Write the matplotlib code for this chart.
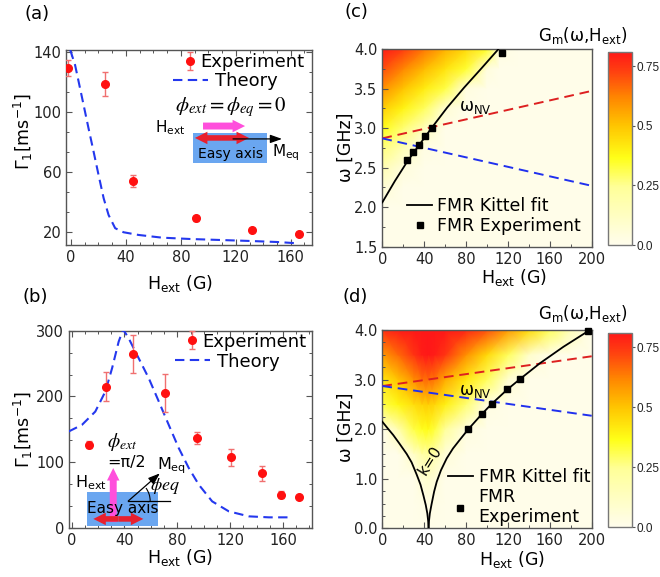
import numpy as np
import matplotlib
matplotlib.use('Agg')
import matplotlib.pyplot as plt
from matplotlib.colors import LinearSegmentedColormap
from matplotlib.ticker import AutoMinorLocator, MultipleLocator, FormatStrFormatter
from matplotlib.patches import Rectangle, Arc

plt.rcParams['font.family'] = ['DejaVu Sans']
plt.rcParams['mathtext.default'] = 'regular'

# ---------------- data ----------------
# (a) phi_ext = phi_eq = 0
a_exp_H = [-2, 25, 45, 91, 132, 166]
a_exp_G = [129.3, 118.7, 54.3, 29.3, 21.8, 18.7]
a_exp_err = [5.3, 8.1, 4.1, 1.5, 1.2, 1.2]
a_th_H = [-0.5, 3, 5.6, 9.2, 12.8, 16.5, 20.1, 23.8, 27.4, 32.2, 38.3, 49.2, 66.2, 86.8, 110, 130, 150, 164]
a_th_G = [141.5, 131.5, 120.4, 104.9, 89.3, 73.7, 58.2, 42.7, 31.5, 22.7, 20.0, 18.2, 16.4, 15.5, 14.8, 14.2, 13.5, 12.7]

# (b) phi_ext = pi/2
b_exp_H = [13.4, 26.2, 46.5, 71, 95, 121, 144.3, 158.2, 172.1]
b_exp_G = [126.5, 215, 264.2, 205, 136.4, 107.2, 83.4, 50.5, 47]
b_exp_err = [5.6, 22.3, 29, 28.6, 9, 13, 11.6, 5, 2]
b_th_H = [-2.3, 7.8, 17.9, 25.5, 30.6, 35.6, 39, 43.2, 50.8, 58.4, 66, 73.5, 81.1, 88.7, 96.3, 106.4, 119, 134.2, 149.4, 167]
b_th_G = [146.7, 156.8, 177, 207.4, 242.8, 283.3, 302, 288.4, 258, 227.7, 192.3, 156.9, 121.5, 91.2, 65.8, 40.5, 25.3, 17.7, 16.2, 16.2]

# (c) Kittel fit, FMR experiment, NV lines, G_m map
c_kit_H = [0, 12, 24, 36, 47, 62, 78, 95, 111, 114]
c_kit_W = [2.06, 2.33, 2.58, 2.80, 3.00, 3.26, 3.51, 3.76, 4.00, 4.04]
c_fmr_H = [23.5, 29.6, 35.4, 40.5, 47.2, 114]
c_fmr_W = [2.60, 2.70, 2.79, 2.90, 3.00, 3.95]
nv_H = [0, 200]
nv_up = [2.87, 3.47]
nv_dn = [2.87, 2.27]
c_map_H = [0, 20, 40, 60, 80, 100, 112, 130, 200]
c_map_W = [1.5, 2.0, 2.25, 2.5, 2.75, 3.0, 3.25, 3.5, 3.75, 4.0]
c_map_G = [
    [0.01, 0.01, 0.01, 0.01, 0.01, 0.01, 0.01, 0.01, 0.01],
    [0.01, 0.01, 0.01, 0.01, 0.01, 0.01, 0.01, 0.01, 0.01],
    [0.07, 0.01, 0.01, 0.01, 0.01, 0.01, 0.01, 0.01, 0.01],
    [0.17, 0.05, 0.01, 0.01, 0.01, 0.01, 0.01, 0.01, 0.01],
    [0.27, 0.16, 0.03, 0.01, 0.01, 0.01, 0.01, 0.01, 0.01],
    [0.37, 0.28, 0.14, 0.01, 0.01, 0.01, 0.01, 0.01, 0.01],
    [0.48, 0.39, 0.30, 0.07, 0.01, 0.01, 0.01, 0.01, 0.01],
    [0.60, 0.50, 0.41, 0.32, 0.04, 0.01, 0.01, 0.01, 0.01],
    [0.71, 0.62, 0.52, 0.43, 0.34, 0.05, 0.01, 0.01, 0.01],
    [0.81, 0.74, 0.64, 0.54, 0.45, 0.35, 0.03, 0.01, 0.01],
]

# (d)
d_kitL_H = [0, 5, 10.5, 16, 23.3, 28, 32.9, 36.5, 39.3, 41.5, 43, 43.8, 44.2]
d_kitL_W = [2.15, 2.02, 1.88, 1.72, 1.50, 1.33, 1.08, 0.88, 0.66, 0.47, 0.30, 0.15, 0.0]
d_kitR_H = [44.2, 44.6, 45.4, 47, 49.5, 52, 56, 61.5, 67.5, 74.2, 82.2, 94.9, 104.5, 119.4, 131.5, 150.6, 172.9, 196, 198]
d_kitR_W = [0.0, 0.15, 0.30, 0.48, 0.74, 0.94, 1.17, 1.41, 1.61, 1.79, 2.00, 2.30, 2.51, 2.80, 3.01, 3.33, 3.66, 3.97, 4.0]
d_fmr_H = [82.2, 94.9, 104.5, 119.4, 131.5, 196]
d_fmr_W = [2.00, 2.30, 2.51, 2.80, 3.01, 3.97]
d_map_H = [0, 15, 30, 38, 44, 50, 60, 80, 100, 120, 140, 160, 180, 200]
d_map_W = [0, 0.5, 1.0, 1.5, 2.0, 2.5, 3.0, 3.5, 4.0]
d_map_G = [
    [0.01, 0.01, 0.01, 0.01, 0.01, 0.01, 0.01, 0.01, 0.01, 0.01, 0.01, 0.01, 0.01, 0.01],
    [0.01, 0.01, 0.01, 0.02, 0.03, 0.02, 0.01, 0.01, 0.01, 0.01, 0.01, 0.01, 0.01, 0.01],
    [0.01, 0.01, 0.01, 0.07, 0.09, 0.06, 0.01, 0.01, 0.01, 0.01, 0.01, 0.01, 0.01, 0.01],
    [0.01, 0.01, 0.11, 0.20, 0.22, 0.18, 0.06, 0.01, 0.01, 0.01, 0.01, 0.01, 0.01, 0.01],
    [0.01, 0.17, 0.32, 0.36, 0.37, 0.33, 0.24, 0.04, 0.01, 0.01, 0.01, 0.01, 0.01, 0.01],
    [0.32, 0.38, 0.44, 0.47, 0.48, 0.46, 0.40, 0.28, 0.03, 0.01, 0.01, 0.01, 0.01, 0.01],
    [0.42, 0.50, 0.60, 0.65, 0.66, 0.64, 0.55, 0.42, 0.30, 0.08, 0.01, 0.01, 0.01, 0.01],
    [0.58, 0.66, 0.75, 0.80, 0.81, 0.80, 0.75, 0.60, 0.45, 0.30, 0.10, 0.01, 0.01, 0.01],
    [0.76, 0.80, 0.81, 0.81, 0.81, 0.81, 0.81, 0.78, 0.70, 0.58, 0.45, 0.30, 0.15, 0.01],
]
cbar_ticks = [0, 0.25, 0.5, 0.75]
cbar_labels = ['0.0', '0.25', '0.5', '0.75']

# ---------------- style ----------------
W, H = 660, 577
fig = plt.figure(figsize=(6.6, 5.77), dpi=100)

def px_axes(l, r, t, b):
    return fig.add_axes([l / W, 1 - b / H, (r - l) / W, (b - t) / H])

SPINE = '#555555'
cmap = LinearSegmentedColormap.from_list('gm', [
    (0.0, '#fffdec'), (0.30, '#ffff98'), (0.45, '#ffff18'), (0.62, '#ffc400'),
    (0.76, '#ff8800'), (0.90, '#ff4010'), (1.0, '#ff1818')])

def style_axes(ax, four=True):
    for s in ax.spines.values():
        s.set_color(SPINE)
        s.set_linewidth(1.0)
    ax.tick_params(which='both', direction='in', top=four, right=four, colors=SPINE,
                   labelcolor='#222222', labelsize=10.5)
    ax.tick_params(which='major', length=4, width=0.8)
    ax.tick_params(which='minor', length=2.5, width=0.7)

EXP_RED = '#ff1010'
ERR_RED = '#f07070'
TH_BLUE = '#2438ee'

def gamma_panel(ax, eH, eG, eErr, tH, tG, leg_exp, leg_th):
    eb = ax.errorbar(eH, eG, yerr=eErr, fmt='o', color=EXP_RED, ms=5.5, ecolor=ERR_RED,
                     elinewidth=1.0, capsize=2.5, capthick=1.0, zorder=5)
    th, = ax.plot(tH, tG, color=TH_BLUE, lw=1.5, dashes=(4.5, 2.6), zorder=4)
    l1 = ax.legend([eb], ['Experiment'], loc='center left', bbox_to_anchor=leg_exp,
                   frameon=False, fontsize=13, handlelength=0.8, handletextpad=0.15,
                   borderpad=0, borderaxespad=0)
    ax.add_artist(l1)
    ax.legend([th], ['Theory'], loc='center left', bbox_to_anchor=leg_th,
              frameon=False, fontsize=13, handlelength=1.95, handletextpad=0.4,
              borderpad=0, borderaxespad=0)
    ax.xaxis.set_major_locator(MultipleLocator(40))
    ax.xaxis.set_minor_locator(AutoMinorLocator(4))
    ax.yaxis.set_minor_locator(AutoMinorLocator(3))
    ax.set_xlabel('H$_{ext}$ (G)', fontsize=12.5, va='center')
    ax.set_ylabel(r'$\Gamma_1$[ms$^{-1}$]', fontsize=12.5, va='center')
    style_axes(ax, True)

# ---------------- (a) ----------------
axa = px_axes(66, 312, 50, 245)
gamma_panel(axa, a_exp_H, a_exp_G, a_exp_err, a_th_H, a_th_G, (0.475, 0.938), (0.435, 0.841))
axa.set_xlim(-3.6, 175.5)
axa.set_ylim(11.5, 141.5)
axa.set_yticks([20, 60, 100, 140])
axa.xaxis.set_label_coords(0.463, -0.2)
axa.yaxis.set_label_coords(-0.173, 0.58)

# inset (a)
T = axa.transAxes
BLUE_BOX = '#6aa6f0'
PINK = '#ff4fdc'
RED_AR = '#e8202e'
SIMPLE = 'simple,head_width=0.9,head_length=0.9,tail_width=0.5'
SIMPLE2 = 'simple,head_width=0.9,head_length=0.9,tail_width=0.4'
axa.add_patch(Rectangle((0.516, 0.421), 0.301, 0.153, transform=T, color=BLUE_BOX, zorder=6, lw=0))
axa.annotate('', xy=(0.728, 0.61), xytext=(0.557, 0.61), xycoords=T, textcoords=T,
             arrowprops=dict(arrowstyle=SIMPLE, color=PINK, lw=0, mutation_scale=10,
                             shrinkA=0, shrinkB=0), zorder=7)
for xe in (0.524, 0.744):
    axa.annotate('', xy=(xe, 0.549), xytext=(0.634, 0.549), xycoords=T, textcoords=T,
                 arrowprops=dict(arrowstyle=SIMPLE2, color=RED_AR, lw=0, mutation_scale=10,
                                 shrinkA=0, shrinkB=0), zorder=7)
axa.annotate('', xy=(0.878, 0.544), xytext=(0.679, 0.544), xycoords=T, textcoords=T,
             arrowprops=dict(arrowstyle='-|>,head_width=0.25,head_length=0.7', color='black', lw=0.9,
                             shrinkA=0, shrinkB=0), zorder=8)
axa.text(0.443, 0.708, r'$\mathit{\phi_{ext}=\phi_{eq}=0}$', transform=T, fontsize=15, va='center',
         ha='left', math_fontfamily='stix', zorder=8)
axa.text(0.362, 0.6, 'H$_{ext}$', transform=T, fontsize=11, va='center', ha='left', zorder=8)
axa.text(0.667, 0.467, 'Easy axis', transform=T, fontsize=10, va='center', ha='center', zorder=8)
axa.text(0.837, 0.472, 'M$_{eq}$', transform=T, fontsize=11, va='center', ha='left', zorder=8)

# ---------------- (b) ----------------
axb = px_axes(69, 312, 330.7, 528)
gamma_panel(axb, b_exp_H, b_exp_G, b_exp_err, b_th_H, b_th_G, (0.476, 0.944), (0.436, 0.843))
axb.set_xlim(-2, 182)
axb.set_ylim(0, 300)
axb.set_yticks([0, 100, 200, 300])
axb.xaxis.set_label_coords(0.457, -0.152)
axb.yaxis.set_label_coords(-0.187, 0.497)

T = axb.transAxes
axb.add_patch(Rectangle((0.073, 0.010), 0.294, 0.174, transform=T, color=BLUE_BOX, zorder=6, lw=0))
axb.annotate('', xy=(0.182, 0.304), xytext=(0.182, 0.030), xycoords=T, textcoords=T,
             arrowprops=dict(arrowstyle=SIMPLE, color=PINK, lw=0, mutation_scale=10,
                             shrinkA=0, shrinkB=0), zorder=7)
for xe in (0.1, 0.306):
    axb.annotate('', xy=(xe, 0.046), xytext=(0.203, 0.046), xycoords=T, textcoords=T,
                 arrowprops=dict(arrowstyle=SIMPLE2, color=RED_AR, lw=0, mutation_scale=10,
                                 shrinkA=0, shrinkB=0), zorder=7)
axb.plot([0.244, 0.416], [0.137, 0.137], transform=T, color='black', lw=0.9, zorder=8)
axb.annotate('', xy=(0.374, 0.277), xytext=(0.244, 0.137), xycoords=T, textcoords=T,
             arrowprops=dict(arrowstyle='-|>,head_width=0.25,head_length=0.7', color='black', lw=0.9,
                             shrinkA=0, shrinkB=0), zorder=8)
axb.add_patch(Arc((0.244, 0.137), 0.18, 0.223, theta1=0, theta2=42, transform=T, color='black',
                  lw=0.8, zorder=8))
axb.text(0.156, 0.435, r'$\mathit{\phi_{ext}}$', transform=T, fontsize=14, va='center', ha='left',
         math_fontfamily='stix', zorder=8)
axb.text(0.156, 0.33, '=π/2', transform=T, fontsize=11.5, va='center', ha='left', zorder=8)
axb.text(0.025, 0.228, 'H$_{ext}$', transform=T, fontsize=11.5, va='center', ha='left', zorder=8)
axb.text(0.22, 0.101, 'Easy axis', transform=T, fontsize=11, va='center', ha='center', zorder=8)
axb.text(0.335, 0.215, r'$\mathit{\phi eq}$', transform=T, fontsize=13, va='center', ha='left',
         math_fontfamily='stix', zorder=8)
axb.text(0.362, 0.315, 'M$_{eq}$', transform=T, fontsize=11.5, va='center', ha='left', zorder=8)

# ---------------- (c), (d) ----------------
def map_panel(ax, mH, mW, mG, ylim, yminor):
    HH, WW = np.meshgrid(mH, mW)
    m = ax.pcolormesh(HH, WW, np.array(mG), shading='gouraud', cmap=cmap, vmin=0, vmax=0.81,
                      rasterized=True, zorder=1)
    ax.plot(nv_H, nv_up, color='#dd2020', lw=1.4, dashes=(5, 3), zorder=3)
    ax.plot(nv_H, nv_dn, color='#2030ee', lw=1.4, dashes=(5, 3), zorder=3)
    ax.set_xlim(0, 200)
    ax.set_ylim(*ylim)
    ax.xaxis.set_major_locator(MultipleLocator(40))
    ax.xaxis.set_minor_locator(AutoMinorLocator(2))
    ax.yaxis.set_minor_locator(AutoMinorLocator(yminor))
    ax.yaxis.set_major_formatter(FormatStrFormatter('%.1f'))
    ax.set_xlabel('H$_{ext}$ (G)', fontsize=12.5, va='center')
    ax.set_ylabel('ω [GHz]', fontsize=12.5, va='center')
    style_axes(ax, False)
    return m

def colorbar(m, l, r, t, b, title_y):
    cax = px_axes(l, r, t, b)
    cb = fig.colorbar(m, cax=cax, ticks=cbar_ticks)
    cb.ax.set_yticklabels(cbar_labels, family='Liberation Sans')
    cb.outline.set_edgecolor('#777777')
    cb.outline.set_linewidth(1.0)
    cb.ax.tick_params(labelsize=8.5, colors='#555555', labelcolor='#222222', length=2, width=0.8, pad=1)
    fig.text(583 / W, 1 - title_y / H, 'G$_m$(ω,H$_{ext}$)', fontsize=12, ha='center', va='center')

axc = px_axes(382.3, 591.7, 49, 246.7)
mc = map_panel(axc, c_map_H, c_map_W, c_map_G, (1.5, 4.0), 2)
axc.set_yticks([1.5, 2.0, 2.5, 3.0, 3.5, 4.0])
kc, = axc.plot(c_kit_H, c_kit_W, color='black', lw=1.3, zorder=4)
fc, = axc.plot(c_fmr_H, c_fmr_W, 's', color='black', ms=4.3, zorder=5, clip_on=False)
axc.legend([kc, fc], ['FMR Kittel fit', 'FMR Experiment'], loc='center left',
           bbox_to_anchor=(0.118, 0.155), frameon=False, fontsize=12.5, handlelength=1.44,
           handletextpad=0.3, borderpad=0, borderaxespad=0, labelspacing=0.1)
axc.text(0.443, 0.709, 'ω$_{NV}$', transform=axc.transAxes, fontsize=12, ha='center', va='center', zorder=6)
axc.xaxis.set_label_coords(0.63, -0.158)
axc.yaxis.set_label_coords(-0.175, 0.504)
colorbar(mc, 608, 632, 51.7, 245, 35)

axd = px_axes(382.3, 591.7, 330, 528.3)
md = map_panel(axd, d_map_H, d_map_W, d_map_G, (0, 4.0), 4)
axd.set_yticks([0, 1, 2, 3, 4])
kd, = axd.plot(d_kitL_H, d_kitL_W, color='black', lw=1.3, zorder=4)
axd.plot(d_kitR_H, d_kitR_W, color='black', lw=1.3, zorder=4)
fd, = axd.plot(d_fmr_H, d_fmr_W, 's', color='black', ms=4.3, zorder=5, clip_on=False)
axd.legend([kd, fd], ['FMR Kittel fit', 'FMR\nExperiment'], loc='upper left',
           bbox_to_anchor=(0.315, 0.305), frameon=False, fontsize=12.5, handlelength=1.4,
           handletextpad=0.35, borderpad=0, borderaxespad=0, labelspacing=0.1)
axd.text(0.443, 0.69, 'ω$_{NV}$', transform=axd.transAxes, fontsize=12, ha='center', va='center', zorder=6)
axd.text(0.228, 0.344, 'k=0', transform=axd.transAxes, fontsize=11, ha='center', va='center',
         rotation=58, zorder=6)
axd.xaxis.set_label_coords(0.618, -0.155)
axd.yaxis.set_label_coords(-0.175, 0.51)
colorbar(md, 608, 632, 332.7, 527.3, 314)

# panel labels
for lab, x, y in [('(a)', 37.5, 14), ('(b)', 35, 297), ('(c)', 356, 12), ('(d)', 355, 297)]:
    fig.text(x / W, 1 - y / H, lab, fontsize=13, ha='center', va='center')

fig.savefig('out.png', dpi=100)
